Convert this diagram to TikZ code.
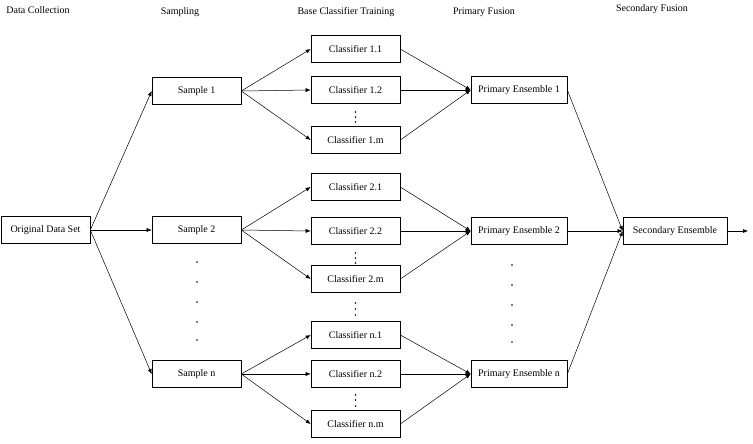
\documentclass[tikz,border=0pt]{standalone}
\usepackage{fontspec}
\setmainfont{Liberation Serif}
\usetikzlibrary{arrows.meta}
\begin{document}
\begin{tikzpicture}[x=1pt,y=-1pt,
  box/.style={draw,line width=0.6pt,minimum width=89pt,minimum height=27pt,inner sep=1pt,font=\fontsize{10}{12}\selectfont},
  wbox/.style={box,minimum width=96pt},
  sbox/.style={box,minimum width=104pt},
  head/.style={font=\fontsize{10}{12}\selectfont,inner sep=0pt},
  conn/.style={line width=0.5pt,-{Latex[length=5pt,width=4pt]}},
  dot/.style={circle,fill,inner sep=0pt,minimum size=1.6pt}]
\useasboundingbox (0,0) rectangle (753,444);
% headings
\node[head] (h1) at (38,10) {Data Collection};
\node[head] (h2) at (180,12) {Sampling};
\node[head] (h3) at (346,12) {Base Classifier Training};
\node[head] (h4) at (484,12) {Primary Fusion};
\node[head] (h5) at (652,9) {Secondary Fusion};
% boxes
\node[box] (orig) at (45.5,230) {Original Data Set};
\node[box] (s1) at (196.5,91) {Sample 1};
\node[box] (s2) at (196.5,230) {Sample 2};
\node[box] (sn) at (196.5,374) {Sample n};
\node[box] (c11) at (355.5,49) {Classifier 1.1};
\node[box] (c12) at (355.5,90) {Classifier 1.2};
\node[box] (c1m) at (355.5,140) {Classifier 1.m};
\node[box] (c21) at (355.5,187) {Classifier 2.1};
\node[box] (c22) at (355.5,231) {Classifier 2.2};
\node[box] (c2m) at (355.5,279) {Classifier 2.m};
\node[box] (cn1) at (355.5,335) {Classifier n.1};
\node[box] (cn2) at (355.5,374) {Classifier n.2};
\node[box] (cnm) at (355.5,424) {Classifier n.m};
\node[wbox] (p1) at (519,90) {Primary Ensemble 1};
\node[wbox] (p2) at (519,231) {Primary Ensemble 2};
\node[wbox] (pn) at (519,374) {Primary Ensemble n};
\node[sbox] (sec) at (675,231) {Secondary Ensemble};
\coordinate (out) at (748,231);
% connectors
\foreach \s in {s1,s2,sn} \draw[conn] (orig.east) -- (\s.west);
\foreach \c in {c11,c12,c1m} {\draw[conn] (s1.east) -- (\c.west); \draw[conn] (\c.east) -- (p1.west);}
\foreach \c in {c21,c22,c2m} {\draw[conn] (s2.east) -- (\c.west); \draw[conn] (\c.east) -- (p2.west);}
\foreach \c in {cn1,cn2,cnm} {\draw[conn] (sn.east) -- (\c.west); \draw[conn] (\c.east) -- (pn.west);}
\foreach \p in {p1,p2,pn} \draw[conn] (\p.east) -- (sec.west);
\draw[conn] (sec.east) -- (out);
% dots
\foreach \y in {112,117,122, 253,258,263, 303,309,315, 395,400,406}
  \node[dot] at (355.5,\y) {};
\foreach \y in {262,282,302,322,340}
  \node[dot] at (197,\y) {};
\foreach \y in {265,285,305,325,342}
  \node[dot] at (512,\y) {};
\end{tikzpicture}
\end{document}
